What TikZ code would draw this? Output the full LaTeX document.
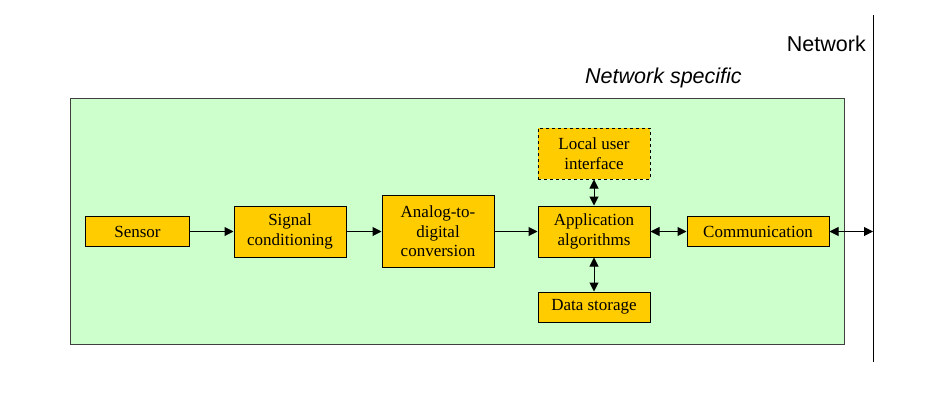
\documentclass[tikz,border=0pt]{standalone}
\usepackage{fontspec}
\setmainfont{Liberation Serif}
\setsansfont{Liberation Sans}
\usetikzlibrary{arrows.meta}
\definecolor{panelgreen}{HTML}{CCFFCC}
\definecolor{boxgold}{HTML}{FFCC00}
\definecolor{paneledge}{HTML}{404040}
\tikzset{
  blk/.style={draw=black, line width=1pt, fill=boxgold, inner sep=0pt, align=center,
    font=\fontsize{17}{19.5}\selectfont},
  conn/.style={line width=1pt, -{Triangle[length=9pt,width=9pt]}},
  biconn/.style={line width=1pt, {Triangle[length=9pt,width=9pt]}-{Triangle[length=9pt,width=9pt]}},
  lbl/.style={inner sep=0pt, font=\sffamily\fontsize{21.5}{24}\selectfont}
}
\begin{document}
\begin{tikzpicture}[x=1pt,y=-1pt]
\useasboundingbox (0,0) rectangle (935,405);
\fill[white] (0,0) rectangle (935,405);
% panel
\node[draw=paneledge, line width=1pt, fill=panelgreen, minimum width=774pt, minimum height=246pt, inner sep=0pt] (panel) at (457,221) {};
% network line
\coordinate (nettop) at (873,15);
\coordinate (netbot) at (873,362);
\draw[line width=1pt] (nettop) -- (netbot);
\coordinate (net) at (873,231.5);
% labels
\node[lbl, anchor=base east] (netlbl) at (866,51) {Network};
\node[lbl, anchor=base west] (speclbl) at (585,83) {\itshape Network specific};
% blocks
\node[blk, minimum width=104pt, minimum height=30pt] (sensor) at (137.5,231.5) {Sensor};
\node[blk, minimum width=112pt, minimum height=51pt] (signal) at (290,231.5) {Signal\\conditioning};
\node[blk, minimum width=112pt, minimum height=72pt] (adc) at (438,231.5) {Analog-to-\\digital\\conversion};
\node[blk, minimum width=112pt, minimum height=51pt] (app) at (594,231.5) {Application\\algorithms};
\node[blk, dashed, minimum width=112pt, minimum height=51pt] (lui) at (594,153.5) {Local user\\interface};
\node[blk, minimum width=112pt, minimum height=30pt] (ds) at (594,307) {Data storage};
\node[blk, minimum width=142pt, minimum height=30pt] (comm) at (758,231.5) {Communication};
% connectors
\draw[conn] (sensor) -- (signal);
\draw[conn] (signal) -- (adc);
\draw[conn] (adc) -- (app);
\draw[biconn] (app) -- (comm);
\draw[biconn] (lui) -- (app);
\draw[biconn] (app) -- (ds);
\draw[biconn] (comm) -- (net);
\end{tikzpicture}
\end{document}
